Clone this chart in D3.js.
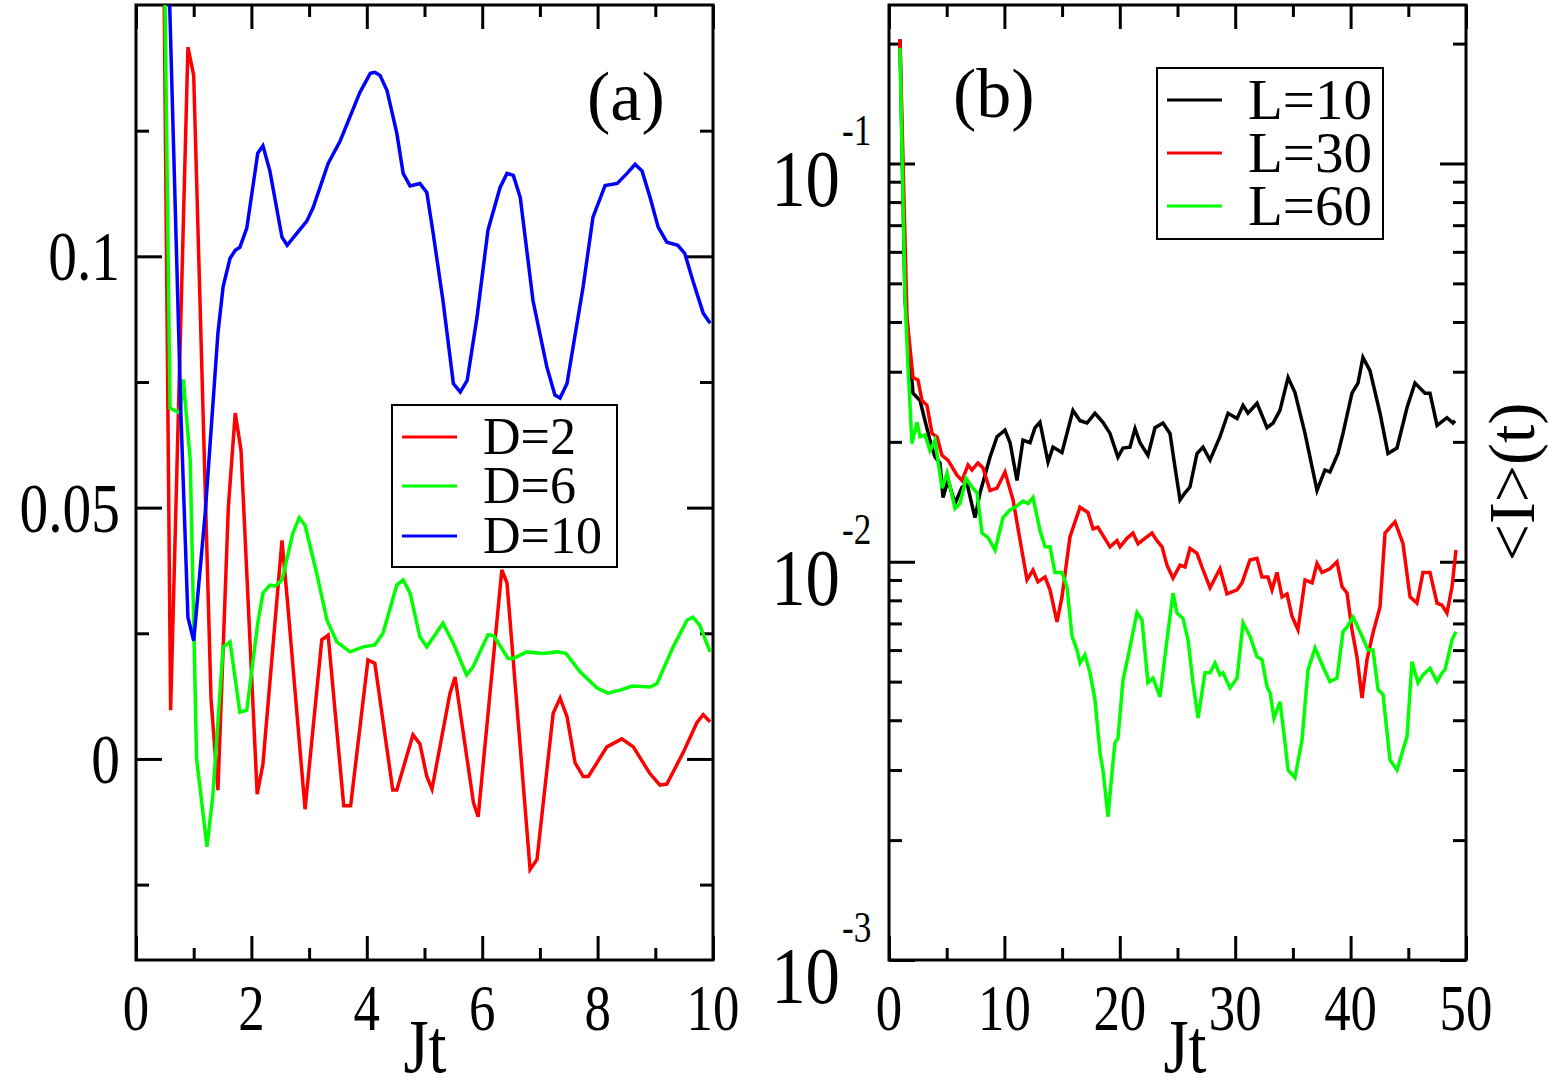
<!DOCTYPE html>
<html>
<head>
<meta charset="utf-8">
<script src="https://cdn.jsdelivr.net/npm/d3@7"></script>
<style>
  body { margin: 0; background: #fff; }
  svg { display: block; }
  text { font-family: 'Liberation Serif', 'DejaVu Serif', serif; }
</style>
</head>
<body>
<div id="chart"></div>
<script>
// ---- panel (a): D series, [Jt, value]
const seriesD2 = [[0, 0.3], [0.45, 0.2], [0.6, 0.0097], [0.9, 0.1416], [1.0, 0.136], [1.3, 0.012], [1.42, -0.0062],
  [1.6, 0.05], [1.72, 0.0688], [1.82, 0.0614], [2.1, -0.007], [2.2, -0.001], [2.53, 0.0435], [2.62, 0.032],
  [2.93, -0.010], [3.22, 0.0237], [3.33, 0.0246], [3.6, -0.0093], [3.72, -0.0093], [4.02, 0.0197], [4.14, 0.019],
  [4.45, -0.0062], [4.52, -0.0062], [4.8, 0.0048], [4.92, 0.003], [5.04, -0.0035], [5.13, -0.006], [5.44, 0.013],
  [5.53, 0.0163], [5.85, -0.0088], [5.93, -0.0115], [6.34, 0.0376], [6.43, 0.035], [6.83, -0.022], [6.95, -0.020],
  [7.23, 0.0091], [7.35, 0.0121], [7.47, 0.0084], [7.61, -0.0008], [7.75, -0.0035], [7.84, -0.0035], [8.16, 0.0024],
  [8.42, 0.004], [8.62, 0.0024], [8.9, -0.0028], [9.08, -0.0052], [9.2, -0.005], [9.48, 0.0012], [9.72, 0.0072],
  [9.83, 0.0088], [9.95, 0.0074]];
const seriesD6 = [[0, 0.3], [0.45, 0.2], [0.59, 0.0698], [0.76, 0.0688], [0.82, 0.0755], [0.94, 0.0594], [1.05, 0.0],
  [1.23, -0.0175], [1.33, -0.0075], [1.51, 0.0223], [1.63, 0.0233], [1.8, 0.0093], [1.92, 0.0097], [2.11, 0.027],
  [2.2, 0.033], [2.32, 0.0346], [2.41, 0.0344], [2.53, 0.0356], [2.72, 0.045], [2.83, 0.048], [2.93, 0.0465],
  [3.13, 0.037], [3.31, 0.0276], [3.48, 0.0233], [3.71, 0.0213], [3.94, 0.0223], [4.14, 0.0227], [4.28, 0.025],
  [4.52, 0.0346], [4.63, 0.0356], [4.75, 0.033], [4.92, 0.0243], [5.04, 0.0223], [5.32, 0.027], [5.5, 0.023],
  [5.73, 0.0167], [5.84, 0.0183], [6.1, 0.0247], [6.2, 0.0245], [6.45, 0.020], [6.54, 0.020], [6.77, 0.0213],
  [7.05, 0.021], [7.3, 0.0213], [7.45, 0.021], [7.7, 0.0173], [7.99, 0.0141], [8.18, 0.0131], [8.39, 0.0137],
  [8.6, 0.0145], [8.91, 0.0143], [9.03, 0.015], [9.31, 0.0223], [9.55, 0.0276], [9.65, 0.0282], [9.77, 0.0266],
  [9.95, 0.0213]];
const seriesD10 = [[0, 0.3], [0.5, 0.185], [0.78, 0.068], [0.9, 0.0282], [1.0, 0.0235], [1.2, 0.049], [1.42, 0.0847],
  [1.51, 0.094], [1.63, 0.0996], [1.72, 0.1012], [1.8, 0.1018], [1.92, 0.1056], [2.11, 0.1205], [2.2, 0.122],
  [2.32, 0.117], [2.53, 0.1038], [2.62, 0.1022], [2.79, 0.1046], [2.96, 0.107], [3.07, 0.1097], [3.33, 0.1185],
  [3.54, 0.123], [3.88, 0.1326], [4.06, 0.1364], [4.14, 0.1366], [4.23, 0.136], [4.35, 0.133], [4.52, 0.1245],
  [4.63, 0.1165], [4.75, 0.114], [4.92, 0.1145], [5.04, 0.1127], [5.15, 0.1046], [5.32, 0.0912], [5.5, 0.0747],
  [5.62, 0.073], [5.74, 0.0753], [5.91, 0.0879], [6.1, 0.1052], [6.31, 0.1137], [6.43, 0.1165], [6.54, 0.1161],
  [6.66, 0.1117], [6.88, 0.0912], [7.12, 0.078], [7.26, 0.0724], [7.35, 0.0718], [7.47, 0.0747], [7.75, 0.094],
  [7.92, 0.1078], [8.13, 0.1141], [8.34, 0.1145], [8.51, 0.1165], [8.65, 0.1183], [8.77, 0.117], [8.91, 0.1117],
  [9.05, 0.1058], [9.2, 0.1028], [9.39, 0.1022], [9.51, 0.1006], [9.65, 0.0952], [9.83, 0.0887], [9.95, 0.0867]];

// ---- panel (b): L series, [Jt, <I>(t)]
const seriesL10 = [[0.95, 0.205], [1.39, 0.0453], [2.08, 0.0265], [2.69, 0.0254], [3.12, 0.0226], [3.55, 0.0202],
  [3.99, 0.0183], [4.42, 0.0177], [4.68, 0.0145], [5.11, 0.0160], [5.72, 0.0140], [6.33, 0.0154], [6.76, 0.0157],
  [7.45, 0.0129], [7.89, 0.0149], [8.75, 0.0183], [9.36, 0.0206], [10.05, 0.0214], [10.49, 0.0199], [11.09, 0.0160],
  [11.61, 0.0202], [12.22, 0.0199], [12.65, 0.0217], [13.08, 0.0224], [13.78, 0.0178], [14.21, 0.0194],
  [14.99, 0.0188], [15.94, 0.0240], [16.55, 0.0226], [17.16, 0.0223], [17.85, 0.0236], [18.54, 0.0224],
  [19.15, 0.0210], [19.84, 0.0183], [20.28, 0.0193], [20.88, 0.0194], [21.32, 0.0216], [21.75, 0.0199],
  [22.44, 0.0185], [23.05, 0.0217], [23.74, 0.0223], [24.35, 0.0210], [24.78, 0.0173], [25.22, 0.0143],
  [25.65, 0.0149], [26.08, 0.0154], [26.69, 0.0187], [27.21, 0.0194], [27.82, 0.0180], [28.68, 0.0206],
  [29.38, 0.0236], [30.16, 0.0229], [30.68, 0.0247], [31.11, 0.0236], [31.89, 0.0250], [32.76, 0.0217],
  [33.28, 0.0223], [33.88, 0.0240], [34.58, 0.0290], [35.18, 0.0266], [36.05, 0.0210], [36.66, 0.0173],
  [37.09, 0.0151], [37.78, 0.0170], [38.21, 0.0168], [38.91, 0.0187], [39.34, 0.0210], [40.12, 0.0265],
  [40.64, 0.0281], [41.07, 0.0326], [41.68, 0.0302], [42.55, 0.0236], [43.24, 0.0187], [44.02, 0.0193],
  [44.89, 0.0244], [45.58, 0.0281], [46.45, 0.0265], [46.88, 0.0265], [47.49, 0.0220], [48.35, 0.0230],
  [48.87, 0.0223], [49.05, 0.0226]];
const seriesL30 = [[0.95, 0.205], [1.56, 0.041], [2.08, 0.029], [2.51, 0.0286], [2.86, 0.0254], [3.29, 0.0247],
  [3.73, 0.0210], [4.16, 0.0206], [4.59, 0.0185], [5.11, 0.0180], [5.89, 0.0165], [6.33, 0.0160], [6.85, 0.0175],
  [7.19, 0.0170], [7.71, 0.0177], [8.15, 0.0172], [8.75, 0.0151], [9.36, 0.0153], [10.05, 0.0168], [10.75, 0.0143],
  [11.96, 0.0090], [12.48, 0.00953], [12.91, 0.0089], [13.52, 0.00916], [13.95, 0.0085], [14.56, 0.00706],
  [14.99, 0.00816], [15.68, 0.01154], [16.55, 0.0137], [17.24, 0.0133], [17.68, 0.0121], [18.11, 0.0122],
  [19.15, 0.0109], [19.76, 0.0113], [20.02, 0.0109], [20.62, 0.01145], [21.14, 0.0118], [21.58, 0.0111],
  [22.18, 0.01145], [22.79, 0.0118], [23.22, 0.0113], [23.66, 0.0109], [24.09, 0.0098], [24.61, 0.0091],
  [25.22, 0.0098], [25.65, 0.0097], [26.08, 0.0108], [26.69, 0.0105], [27.12, 0.0097], [27.82, 0.0086],
  [28.68, 0.0096], [29.29, 0.0083], [30.16, 0.0085], [30.59, 0.00885], [31.28, 0.0101], [31.89, 0.0102],
  [32.32, 0.00916], [32.84, 0.00916], [33.19, 0.0085], [33.62, 0.0094], [34.06, 0.00816], [34.49, 0.0083],
  [34.92, 0.0073], [35.44, 0.00675], [36.05, 0.0090], [36.66, 0.00885], [37.09, 0.0099], [37.52, 0.0094],
  [38.21, 0.0096], [38.82, 0.0100], [39.26, 0.00865], [39.69, 0.00835], [40.12, 0.00675], [40.55, 0.00577],
  [40.99, 0.00455], [41.42, 0.00568], [41.94, 0.00663], [42.55, 0.0077], [42.98, 0.0118], [43.41, 0.0122],
  [43.85, 0.0126], [44.54, 0.0111], [45.15, 0.00816], [45.75, 0.00787], [46.27, 0.0094], [46.88, 0.0094],
  [47.49, 0.00787], [47.92, 0.00778], [48.35, 0.00743], [48.79, 0.00865], [49.13, 0.0107]];
const seriesL60 = [[0.95, 0.195], [1.39, 0.0453], [1.65, 0.0308], [1.99, 0.0198], [2.43, 0.0224], [2.69, 0.0206],
  [3.12, 0.0208], [3.55, 0.0190], [3.99, 0.0202], [4.59, 0.0153], [5.03, 0.0167], [5.72, 0.0136], [6.15, 0.0140],
  [6.67, 0.0162], [7.19, 0.0154], [7.63, 0.0149], [8.06, 0.0118], [8.58, 0.0115], [9.19, 0.0107], [9.88, 0.0129],
  [10.49, 0.0135], [10.92, 0.0137], [11.61, 0.0142], [12.05, 0.0140], [12.48, 0.0145], [13.08, 0.0120],
  [13.52, 0.0109], [13.95, 0.0109], [14.38, 0.0094], [14.99, 0.0094], [15.42, 0.00865], [15.86, 0.0065],
  [16.29, 0.0060], [16.55, 0.00557], [16.98, 0.00584], [17.42, 0.00526], [17.85, 0.0045], [18.28, 0.00332],
  [18.54, 0.0030], [18.98, 0.00229], [19.32, 0.00295], [19.58, 0.00351], [19.84, 0.0036], [20.28, 0.00506],
  [20.71, 0.00577], [21.49, 0.00745], [21.92, 0.00715], [22.44, 0.00497], [22.88, 0.0051], [23.48, 0.00458],
  [24.09, 0.00637], [24.61, 0.00834], [24.96, 0.00743], [25.48, 0.0072], [25.91, 0.00637], [26.34, 0.00497],
  [26.78, 0.00405], [27.38, 0.00526], [27.82, 0.00526], [28.25, 0.00557], [28.68, 0.0052], [28.94, 0.00526],
  [29.55, 0.00482], [30.16, 0.0051], [30.68, 0.00702], [31.28, 0.0065], [31.89, 0.00577], [32.32, 0.00568],
  [32.76, 0.00485], [33.02, 0.00469], [33.36, 0.00405], [33.88, 0.00445], [34.32, 0.00351], [34.58, 0.0030],
  [35.18, 0.00287], [35.79, 0.00357], [36.31, 0.00536], [36.92, 0.00607], [37.61, 0.00545], [38.21, 0.0050],
  [38.82, 0.0051], [39.34, 0.00667], [39.69, 0.00686], [40.21, 0.00727], [40.99, 0.0065], [41.51, 0.0060],
  [41.94, 0.0060], [42.38, 0.00477], [42.81, 0.00464], [43.41, 0.00318], [44.02, 0.0030], [44.89, 0.00364],
  [45.32, 0.00561], [45.84, 0.00497], [46.27, 0.0052], [46.88, 0.0054], [47.49, 0.0050], [47.92, 0.00526],
  [48.18, 0.00535], [48.79, 0.00637], [49.13, 0.00667]];

const legendA = ['D=2', 'D=6', 'D=10'];
const legendB = ['L=10', 'L=30', 'L=60'];
const colorsA = ['#ff0000', '#00ff00', '#0000ff'];
const colorsB = ['#000000', '#ff0000', '#00ff00'];

const xMajorA = [0, 2, 4, 6, 8, 10];
const xMinorA = [1, 3, 5, 7, 9];
const yMajorA = [0, 0.05, 0.1];
const yMinorA = [-0.025, 0.025, 0.075, 0.125];
const yLabelsA = ['0', '0.05', '0.1'];
const xMajorB = [0, 10, 20, 30, 40, 50];
const xMinorB = [5, 15, 25, 35, 45];
const yMajorB = [0.001, 0.01, 0.1];
const yMinorB = [0.002, 0.003, 0.004, 0.005, 0.006, 0.007, 0.008, 0.009,
  0.02, 0.03, 0.04, 0.05, 0.06, 0.07, 0.08, 0.09, 0.2];
const yExpB = ['-3', '-2', '-1'];

const W = 1548, H = 1088;
const FONT = "'Liberation Serif', 'DejaVu Serif', serif";

const svg = d3.select('#chart').append('svg')
  .attr('width', W).attr('height', H);

const xA = d3.scaleLinear().domain([0, 10]).range([136, 713]);
const yA = d3.scaleLinear().domain([-0.04, 0.15]).range([960, 5]);
const xB = d3.scaleLinear().domain([0, 50]).range([889, 1466]);
const yB = d3.scaleLog().domain([0.001, 0.25]).range([960, 5]);

// text squeezed horizontally like the original figure
function label(x, y, txt, size, anchor, sx) {
  return svg.append('g')
    .attr('transform', `translate(${x},${y}) scale(${sx || 1},1)`)
    .append('text')
    .attr('font-family', FONT)
    .attr('text-anchor', anchor || 'start')
    .attr('font-size', size)
    .attr('fill', '#000')
    .text(txt);
}

function frame(x, y, xMaj, xMin, yMaj, yMin, id) {
  const [x0, x1] = x.range();
  const [y0, y1] = y.range();
  const add = (axis, tr) => svg.append('g')
    .attr('transform', tr)
    .call(axis)
    .call(g => g.select('.domain').remove())
    .call(g => g.selectAll('line').attr('stroke', '#000').attr('stroke-width', 3));

  add(d3.axisBottom(x).tickValues(xMaj).tickSize(-24).tickFormat(''), `translate(0,${y0})`);
  add(d3.axisBottom(x).tickValues(xMin).tickSize(-12).tickFormat(''), `translate(0,${y0})`);
  add(d3.axisTop(x).tickValues(xMaj).tickSize(-24).tickFormat(''), `translate(0,${y1})`);
  add(d3.axisTop(x).tickValues(xMin).tickSize(-12).tickFormat(''), `translate(0,${y1})`);
  add(d3.axisLeft(y).tickValues(yMaj).tickSize(-26).tickFormat(''), `translate(${x0},0)`);
  add(d3.axisLeft(y).tickValues(yMin).tickSize(-13).tickFormat(''), `translate(${x0},0)`);
  add(d3.axisRight(y).tickValues(yMaj).tickSize(-26).tickFormat(''), `translate(${x1},0)`);
  add(d3.axisRight(y).tickValues(yMin).tickSize(-13).tickFormat(''), `translate(${x1},0)`);

  svg.append('rect')
    .attr('x', x0).attr('y', y1)
    .attr('width', x1 - x0).attr('height', y0 - y1)
    .attr('fill', 'none').attr('stroke', '#000').attr('stroke-width', 3);

  svg.append('clipPath').attr('id', id)
    .append('rect')
    .attr('x', x0).attr('y', y1)
    .attr('width', x1 - x0).attr('height', y0 - y1);
}

function drawLines(x, y, list, colors, id) {
  const line = d3.line().x(d => x(d[0])).y(d => y(d[1]));
  svg.append('g').attr('clip-path', `url(#${id})`)
    .selectAll('path')
    .data(list)
    .join('path')
    .attr('d', d => line(d))
    .attr('fill', 'none')
    .attr('stroke', (d, i) => colors[i])
    .attr('stroke-width', 3.5);
}

function legend(x0, y0, w, h, rowY, names, colors, size) {
  svg.append('rect')
    .attr('x', x0).attr('y', y0).attr('width', w).attr('height', h)
    .attr('fill', '#fff').attr('stroke', '#000').attr('stroke-width', 2);
  names.forEach((n, i) => {
    const yy = rowY[i];
    svg.append('line')
      .attr('x1', x0 + 10).attr('x2', x0 + 65)
      .attr('y1', yy).attr('y2', yy)
      .attr('stroke', colors[i]).attr('stroke-width', 3);
    label(x0 + 91, yy + size * 0.33, n, size, 'start', 1);
  });
}

// ---------- panel (a)
frame(xA, yA, xMajorA, xMinorA, yMajorA, yMinorA, 'clipA');
drawLines(xA, yA, [seriesD2, seriesD6, seriesD10], colorsA, 'clipA');

xMajorA.forEach(v => label(xA(v), 1030, String(v), 66, 'middle', 0.8));
yMajorA.forEach((v, i) => label(120, yA(v) + 24, yLabelsA[i], 70, 'end', 0.82));
label(425, 1072, 'Jt', 76, 'middle', 0.85);
label(587, 120, '(a)', 70, 'start', 1);

legend(392, 405, 225, 162, [437, 486, 536], legendA, colorsA, 52);

// ---------- panel (b)
frame(xB, yB, xMajorB, xMinorB, yMajorB, yMinorB, 'clipB');
drawLines(xB, yB, [seriesL10, seriesL30, seriesL60], colorsB, 'clipB');

xMajorB.forEach(v => label(xB(v), 1030, String(v), 66, 'middle', 0.8));
yMajorB.forEach((v, i) => {
  label(840, yB(v) + 43, '10', 80, 'end', 0.86);
  label(842, yB(v) - 18, yExpB[i], 44, 'start', 0.8);
});
label(1185, 1072, 'Jt', 76, 'middle', 0.85);
label(953, 117, '(b)', 70, 'start', 1);

legend(1157, 68, 226, 171, [100, 153, 206], legendB, colorsB, 57);

// right-hand axis title
svg.append('text')
  .attr('transform', 'translate(1534,482) rotate(-90)')
  .attr('font-family', FONT)
  .attr('text-anchor', 'middle')
  .attr('font-size', 66)
  .text('<I>(t)');
</script>
</body>
</html>
